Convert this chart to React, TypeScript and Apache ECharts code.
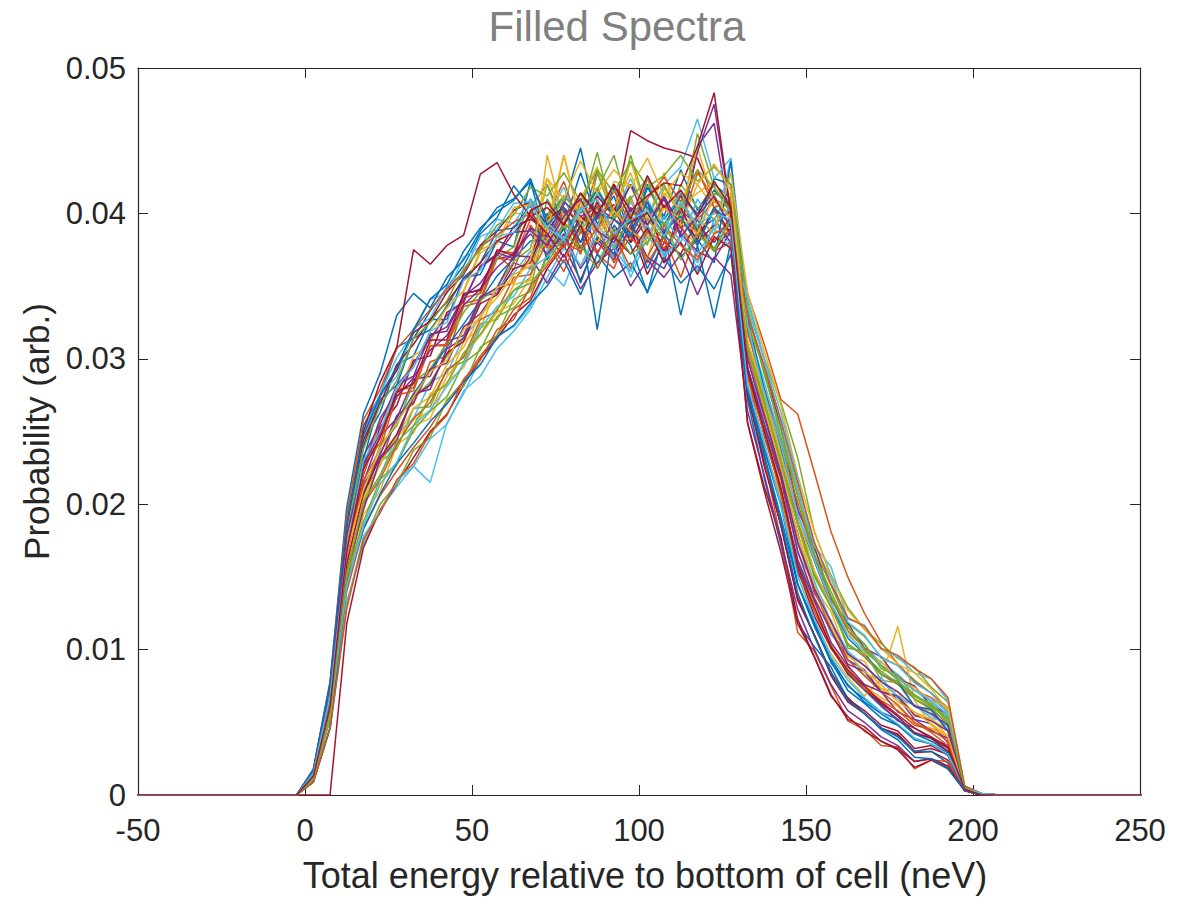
import React, { useEffect, useRef } from "react";
import * as echarts from "echarts";

// MATLAB default colour order
const COLORS = ["#0072BD", "#D95319", "#EDB120", "#7E2F8E", "#77AC30", "#4DBEEE", "#A2142F"];

// energy bin centres (neV)
const X_ZERO_LEFT = [-52.5, -47.5, -42.5, -37.5, -32.5, -27.5, -22.5, -17.5, -12.5, -7.5, -2.5];
const X_MAIN = [
  2.5, 7.5, 12.5, 17.5, 22.5, 27.5, 32.5, 37.5, 42.5, 47.5, 52.5, 57.5, 62.5, 67.5, 72.5, 77.5, 82.5, 87.5, 92.5, 97.5,
  102.5, 107.5, 112.5, 117.5, 122.5, 127.5, 132.5, 137.5, 142.5, 147.5, 152.5, 157.5, 162.5, 167.5, 172.5, 177.5,
  182.5, 187.5, 192.5, 197.5, 202.5,
];
const X_ZERO_RIGHT = [207.5, 212.5, 217.5, 222.5, 227.5, 232.5, 237.5, 242.5, 247.5, 252.5];

// probabilities in units of 1e-4, one value per X_MAIN bin
const s00 = [17, 76, 186, 254, 275, 308, 314, 333, 349, 364, 386, 397, 419, 404, 420, 392, 428, 396, 412, 380, 418, 398, 430, 402, 420, 410, 277, 238, 199, 145, 117, 94, 75, 66, 57, 52, 42, 39, 34, 4, 1];
const s01 = [13, 61, 154, 208, 227, 261, 269, 298, 302, 336, 339, 369, 368, 396, 398, 422, 390, 430, 402, 386, 424, 404, 392, 428, 410, 404, 312, 274, 235, 188, 154, 129, 104, 95, 83, 76, 66, 59, 49, 5, 1];
const s02 = [11, 54, 143, 193, 209, 241, 249, 276, 282, 312, 321, 349, 352, 374, 380, 402, 372, 410, 384, 398, 368, 412, 390, 378, 404, 386, 294, 255, 216, 167, 136, 112, 93, 82, 73, 66, 57, 52, 45, 4, 0];
const s03 = [13, 61, 169, 215, 247, 259, 286, 288, 312, 316, 343, 345, 366, 362, 396, 378, 404, 384, 372, 402, 392, 366, 408, 388, 396, 380, 304, 263, 222, 180, 139, 120, 93, 86, 71, 67, 52, 49, 36, 4, 1];
const s04 = [11, 54, 152, 199, 229, 238, 266, 267, 293, 298, 324, 327, 347, 356, 410, 392, 372, 428, 396, 412, 378, 418, 400, 386, 414, 408, 330, 292, 255, 211, 169, 144, 118, 109, 95, 89, 79, 70, 58, 6, 1];
const s05 = [9, 46, 132, 172, 196, 212, 226, 215, 256, 276, 300, 316, 322, 336, 362, 350, 378, 366, 388, 356, 384, 372, 392, 360, 396, 378, 322, 284, 244, 198, 163, 135, 113, 103, 91, 83, 72, 64, 54, 5, 1];
const s06 = [0, 0, 118, 170, 196, 214, 232, 250, 262, 282, 300, 314, 330, 340, 362, 378, 354, 382, 370, 390, 358, 380, 372, 396, 374, 390, 282, 228, 186, 134, 110, 82, 64, 56, 46, 42, 30, 32, 28, 3, 0];
const s07 = [15, 68, 182, 243, 263, 296, 302, 327, 327, 356, 358, 381, 377, 422, 380, 406, 445, 392, 418, 384, 420, 396, 412, 388, 424, 420, 294, 255, 208, 160, 131, 104, 83, 72, 61, 52, 42, 37, 30, 4, 1];
const s08 = [9, 46, 140, 183, 206, 223, 239, 253, 271, 285, 302, 316, 334, 342, 372, 394, 380, 400, 376, 398, 384, 406, 390, 396, 408, 404, 345, 310, 272, 262, 222, 181, 150, 125, 105, 90, 78, 70, 60, 5, 1];
const s09 = [15, 68, 174, 221, 257, 273, 302, 310, 338, 346, 373, 379, 400, 400, 424, 398, 410, 432, 396, 436, 400, 418, 404, 414, 422, 400, 288, 240, 205, 151, 120, 97, 81, 68, 80, 116, 65, 48, 40, 4, 1];
const s10 = [15, 68, 176, 233, 255, 282, 295, 316, 322, 343, 352, 369, 371, 390, 378, 402, 376, 398, 406, 380, 396, 410, 386, 446, 462, 392, 292, 249, 218, 153, 132, 101, 88, 73, 62, 51, 46, 39, 32, 4, 0];
const s11 = [13, 61, 156, 206, 241, 254, 284, 293, 311, 332, 346, 369, 377, 410, 392, 410, 388, 418, 396, 440, 402, 386, 420, 404, 396, 412, 322, 272, 234, 194, 152, 133, 101, 99, 79, 77, 61, 58, 44, 5, 1];
const s12 = [17, 76, 194, 249, 276, 301, 318, 341, 345, 370, 377, 396, 393, 410, 398, 418, 390, 414, 398, 424, 396, 420, 432, 465, 424, 438, 302, 255, 222, 166, 145, 110, 99, 82, 81, 66, 62, 53, 50, 4, 1];
const s13 = [15, 68, 166, 220, 253, 268, 299, 302, 332, 339, 364, 372, 391, 396, 388, 404, 392, 412, 398, 457, 450, 445, 442, 438, 410, 398, 276, 230, 185, 135, 110, 84, 67, 56, 46, 41, 29, 30, 24, 3, 0];
const s14 = [11, 52, 153, 206, 235, 257, 276, 292, 308, 324, 340, 357, 369, 381, 382, 378, 395, 320, 392, 378, 345, 388, 330, 378, 328, 380, 272, 218, 172, 118, 102, 88, 66, 56, 46, 40, 30, 30, 22, 3, 0];
const s15 = [13, 61, 169, 227, 242, 279, 280, 309, 309, 338, 341, 372, 361, 392, 376, 404, 372, 406, 382, 410, 388, 380, 414, 384, 402, 384, 292, 232, 175, 112, 99, 75, 51, 45, 34, 33, 18, 24, 23, 3, 0];
const s16 = [11, 54, 145, 185, 214, 227, 254, 259, 284, 294, 321, 328, 351, 354, 440, 396, 414, 390, 422, 418, 396, 428, 392, 420, 404, 414, 310, 275, 228, 186, 143, 126, 95, 92, 73, 71, 54, 53, 40, 4, 1];
const s17 = [13, 61, 166, 213, 234, 261, 270, 293, 297, 322, 331, 348, 353, 370, 400, 380, 410, 372, 396, 388, 408, 370, 402, 392, 380, 398, 332, 293, 253, 196, 171, 135, 118, 101, 95, 80, 75, 61, 56, 5, 1];
const s18 = [13, 61, 153, 201, 229, 248, 273, 284, 302, 315, 340, 349, 367, 376, 420, 388, 404, 416, 440, 398, 412, 420, 396, 455, 418, 402, 340, 300, 270, 232, 181, 151, 129, 114, 104, 94, 88, 74, 64, 6, 1];
const s19 = [11, 54, 150, 202, 219, 248, 259, 284, 290, 315, 328, 349, 359, 374, 374, 398, 386, 392, 402, 384, 410, 388, 416, 396, 386, 438, 336, 299, 256, 210, 171, 157, 121, 117, 100, 95, 84, 80, 65, 6, 1];
const s20 = [15, 68, 185, 240, 274, 292, 318, 326, 346, 358, 378, 388, 402, 408, 392, 376, 398, 388, 404, 380, 402, 374, 396, 382, 404, 386, 256, 212, 177, 121, 95, 68, 54, 44, 37, 31, 19, 24, 18, 3, 0];
const s21 = [18, 78, 198, 262, 290, 330, 345, 335, 356, 368, 388, 404, 410, 422, 396, 412, 400, 416, 398, 420, 404, 392, 412, 400, 416, 404, 274, 234, 191, 145, 116, 92, 72, 63, 53, 48, 38, 35, 27, 4, 1];
const s22 = [13, 61, 164, 216, 238, 275, 278, 309, 310, 342, 345, 374, 373, 402, 384, 376, 408, 388, 416, 392, 410, 425, 408, 430, 404, 408, 318, 280, 241, 201, 164, 136, 113, 101, 89, 82, 72, 67, 57, 5, 1];
const s23 = [11, 54, 157, 204, 228, 246, 258, 264, 288, 302, 316, 332, 338, 356, 392, 440, 396, 388, 404, 428, 394, 414, 402, 445, 408, 398, 290, 251, 213, 157, 131, 103, 87, 75, 67, 61, 49, 46, 40, 4, 1];
const s24 = [15, 68, 176, 229, 249, 282, 288, 317, 319, 344, 348, 373, 369, 390, 384, 408, 398, 404, 396, 420, 392, 412, 390, 442, 475, 400, 294, 247, 209, 162, 134, 105, 89, 76, 71, 57, 52, 44, 39, 4, 1];
const s25 = [9, 46, 132, 174, 200, 214, 237, 246, 272, 281, 308, 316, 341, 346, 370, 392, 388, 404, 376, 400, 396, 382, 408, 390, 376, 396, 312, 271, 228, 186, 151, 132, 103, 96, 85, 77, 68, 61, 52, 5, 1];
const s26 = [9, 46, 130, 178, 195, 216, 226, 245, 255, 278, 288, 307, 319, 334, 356, 376, 364, 384, 370, 360, 388, 372, 380, 366, 392, 384, 302, 266, 228, 177, 147, 119, 99, 89, 78, 68, 62, 55, 47, 4, 1];
const s27 = [13, 61, 159, 208, 232, 248, 274, 282, 304, 312, 338, 344, 362, 366, 396, 404, 380, 408, 388, 394, 400, 386, 404, 380, 392, 402, 290, 249, 209, 156, 123, 101, 84, 73, 63, 54, 43, 39, 30, 4, 0];
const s28 = [15, 68, 180, 231, 272, 282, 314, 320, 336, 356, 366, 388, 390, 406, 368, 390, 352, 384, 372, 396, 362, 386, 370, 382, 366, 436, 328, 279, 239, 192, 161, 131, 108, 97, 83, 78, 61, 59, 44, 5, 1];
const s29 = [11, 54, 146, 200, 217, 241, 259, 270, 292, 301, 327, 333, 356, 358, 380, 360, 388, 372, 362, 392, 366, 384, 356, 388, 374, 380, 304, 265, 226, 173, 141, 114, 93, 82, 71, 62, 50, 43, 34, 4, 1];
const s30 = [15, 68, 175, 222, 250, 280, 295, 319, 335, 347, 375, 380, 404, 406, 386, 440, 392, 380, 398, 410, 384, 404, 396, 386, 412, 396, 312, 277, 234, 193, 154, 131, 112, 97, 92, 79, 74, 65, 60, 5, 1];
const s31 = [13, 61, 168, 227, 249, 274, 287, 306, 316, 337, 348, 363, 373, 386, 372, 386, 362, 380, 368, 392, 370, 362, 386, 374, 368, 388, 294, 255, 219, 168, 135, 113, 90, 85, 71, 68, 55, 51, 44, 4, 1];
const s32 = [11, 54, 150, 188, 217, 228, 251, 264, 274, 297, 306, 329, 335, 348, 398, 412, 400, 442, 396, 410, 424, 392, 404, 430, 418, 400, 324, 293, 246, 206, 165, 140, 115, 104, 87, 82, 68, 63, 50, 5, 1];
const s33 = [17, 76, 181, 243, 275, 288, 321, 328, 350, 359, 384, 389, 407, 408, 394, 382, 404, 392, 378, 408, 386, 398, 380, 410, 392, 404, 324, 276, 241, 193, 162, 132, 110, 99, 89, 80, 72, 65, 55, 5, 1];
const s34 = [15, 68, 186, 244, 269, 296, 310, 327, 339, 354, 366, 381, 387, 398, 404, 392, 414, 398, 420, 402, 412, 421, 419, 446, 483, 400, 276, 226, 186, 136, 110, 84, 66, 58, 48, 44, 32, 34, 28, 3, 0];
const s35 = [9, 46, 145, 183, 207, 228, 242, 257, 269, 284, 296, 315, 323, 338, 350, 368, 344, 372, 356, 366, 346, 370, 352, 364, 348, 372, 278, 238, 201, 145, 119, 91, 76, 64, 56, 48, 39, 35, 29, 4, 1];
const s36 = [17, 76, 192, 258, 279, 307, 320, 334, 348, 360, 377, 385, 394, 400, 380, 366, 392, 374, 386, 362, 388, 376, 392, 370, 382, 388, 288, 248, 207, 157, 126, 102, 85, 73, 65, 58, 48, 45, 37, 4, 1];
const s37 = [11, 54, 153, 202, 228, 246, 266, 274, 296, 308, 330, 342, 358, 364, 382, 396, 408, 384, 402, 388, 380, 404, 392, 398, 386, 428, 346, 305, 268, 220, 181, 150, 127, 114, 101, 90, 84, 73, 58, 6, 1];
const s38 = [13, 61, 154, 196, 231, 244, 276, 279, 307, 314, 342, 349, 371, 370, 352, 372, 348, 366, 376, 350, 368, 356, 372, 344, 370, 358, 264, 220, 174, 128, 100, 76, 58, 50, 40, 34, 23, 25, 19, 3, 0];
const s39 = [15, 68, 178, 238, 268, 285, 314, 325, 340, 362, 375, 392, 399, 418, 412, 428, 408, 430, 414, 436, 418, 426, 440, 422, 432, 420, 334, 289, 251, 206, 166, 137, 116, 100, 89, 79, 66, 60, 49, 5, 1];
const s40 = [11, 54, 144, 185, 214, 229, 254, 265, 281, 296, 321, 336, 343, 362, 370, 382, 364, 388, 376, 360, 392, 370, 384, 372, 390, 376, 342, 300, 263, 218, 172, 149, 119, 110, 94, 89, 77, 70, 56, 6, 1];
const s41 = [17, 76, 185, 250, 284, 308, 375, 365, 378, 385, 427, 435, 413, 398, 386, 370, 392, 362, 384, 372, 390, 366, 380, 358, 384, 376, 256, 209, 167, 118, 95, 69, 52, 47, 37, 32, 23, 25, 20, 3, 0];
const s42 = [17, 76, 186, 247, 275, 294, 320, 341, 351, 374, 390, 401, 409, 424, 392, 404, 380, 400, 396, 384, 408, 388, 398, 378, 404, 392, 278, 233, 188, 139, 109, 84, 65, 56, 45, 38, 26, 25, 18, 3, 0];
const s43 = [9, 46, 128, 176, 194, 217, 228, 249, 261, 286, 299, 320, 327, 350, 364, 380, 374, 390, 366, 384, 370, 392, 378, 368, 386, 392, 330, 295, 258, 215, 174, 145, 122, 116, 101, 96, 87, 80, 67, 6, 1];
const s44 = [13, 61, 167, 210, 239, 256, 274, 291, 299, 320, 328, 349, 353, 368, 424, 410, 436, 414, 430, 418, 438, 412, 428, 420, 434, 416, 308, 266, 225, 179, 144, 116, 97, 85, 76, 64, 57, 49, 40, 4, 1];
const s45 = [15, 68, 179, 226, 259, 277, 297, 314, 330, 340, 363, 371, 387, 388, 378, 398, 410, 388, 380, 404, 392, 410, 384, 398, 412, 390, 300, 260, 221, 174, 142, 119, 97, 89, 78, 71, 61, 56, 48, 4, 1];
const s46 = [11, 54, 152, 202, 220, 243, 254, 274, 283, 304, 317, 334, 347, 352, 366, 384, 378, 362, 390, 372, 380, 394, 368, 386, 374, 396, 308, 269, 230, 187, 150, 129, 104, 96, 83, 78, 69, 62, 53, 5, 1];
const s47 = [15, 68, 169, 230, 250, 281, 294, 319, 325, 354, 361, 384, 387, 406, 390, 382, 402, 410, 386, 396, 402, 384, 408, 392, 400, 396, 282, 243, 199, 151, 121, 95, 79, 67, 57, 49, 39, 35, 28, 4, 1];
const s48 = [13, 61, 168, 224, 246, 277, 283, 313, 313, 345, 347, 375, 371, 402, 408, 392, 414, 400, 420, 396, 426, 404, 416, 398, 422, 404, 292, 251, 211, 158, 129, 102, 86, 75, 64, 55, 46, 40, 33, 4, 0];

const SPECTRA = [
  s00, s01, s02, s03, s04, s05, s06, s07, s08, s09, s10, s11, s12, s13, s14, s15, s16,
  s17, s18, s19, s20, s21, s22, s23, s24, s25, s26, s27, s28, s29, s30, s31, s32, s33,
  s34, s35, s36, s37, s38, s39, s40, s41, s42, s43, s44, s45, s46, s47, s48,
];
const UNIT = 1e-4;

const X_TICKS = { min: -50, max: 250, interval: 50 };
const Y_TICKS = { min: 0, max: 0.05, interval: 0.01 };

const FONT = "'Liberation Sans', Arial, Helvetica, sans-serif";
const AXIS_COLOR = "#262626";

function buildSeries() {
  return SPECTRA.map((vals, i) => {
    const data: [number, number][] = [];
    X_ZERO_LEFT.forEach((x) => data.push([x, 0]));
    X_MAIN.forEach((x, j) => data.push([x, vals[j] * UNIT]));
    X_ZERO_RIGHT.forEach((x) => data.push([x, 0]));
    return {
      type: "line",
      name: "spectrum " + (i + 1),
      xAxisIndex: 0,
      yAxisIndex: 0,
      data,
      showSymbol: false,
      symbol: "none",
      clip: true,
      lineStyle: { color: COLORS[i % COLORS.length], width: 1.5 },
      itemStyle: { color: COLORS[i % COLORS.length] },
      emphasis: { disabled: true },
      z: 2,
    };
  });
}

export default function App() {
  const ref = useRef<HTMLDivElement>(null);
  useEffect(() => {
    document.body.style.margin = "0";
    const chart = echarts.init(ref.current!, null, { renderer: "svg" });
    const tickStyle = { show: true, inside: true, length: 10, lineStyle: { color: AXIS_COLOR, width: 1 } };
    const lineStyle = { show: true, onZero: false, lineStyle: { color: AXIS_COLOR, width: 1.2 } };
    chart.setOption({
      animation: false,
      backgroundColor: "#ffffff",
      textStyle: { fontFamily: FONT },
      graphic: [
        {
          type: "text",
          x: 617,
          y: 26,
          style: {
            text: "Filled Spectra",
            fill: "#808080",
            font: `42px ${FONT}`,
            align: "center",
            verticalAlign: "middle",
          },
        },
      ],
      grid: { left: 138, right: 55, top: 68, bottom: 101, containLabel: false },
      xAxis: [
        {
          type: "value",
          position: "bottom",
          ...X_TICKS,
          axisLine: lineStyle,
          axisTick: tickStyle,
          splitLine: { show: false },
          axisLabel: { color: AXIS_COLOR, fontSize: 31, fontFamily: FONT, margin: 20 },
          name: "Total energy relative to bottom of cell (neV)",
          nameLocation: "middle",
          nameGap: 62,
          nameTextStyle: { color: AXIS_COLOR, fontSize: 36, fontFamily: FONT, padding: [0, 0, 0, 12] },
        },
        {
          type: "value",
          position: "top",
          ...X_TICKS,
          axisLine: lineStyle,
          axisTick: tickStyle,
          splitLine: { show: false },
          axisLabel: { show: false },
        },
      ],
      yAxis: [
        {
          type: "value",
          position: "left",
          ...Y_TICKS,
          axisLine: lineStyle,
          axisTick: tickStyle,
          splitLine: { show: false },
          axisLabel: {
            color: AXIS_COLOR,
            fontSize: 31,
            fontFamily: FONT,
            margin: 12,
            formatter: (v: number) => (v === 0 ? "0" : v.toFixed(2)),
          },
          name: "Probability (arb.)",
          nameLocation: "middle",
          nameGap: 84,
          nameRotate: 90,
          nameTextStyle: { color: AXIS_COLOR, fontSize: 35, fontFamily: FONT },
        },
        {
          type: "value",
          position: "right",
          ...Y_TICKS,
          axisLine: lineStyle,
          axisTick: tickStyle,
          splitLine: { show: false },
          axisLabel: { show: false },
        },
      ],
      series: buildSeries(),
    });
    return () => chart.dispose();
  }, []);
  return <div ref={ref} style={{ width: 1195, height: 898 }} />;
}
